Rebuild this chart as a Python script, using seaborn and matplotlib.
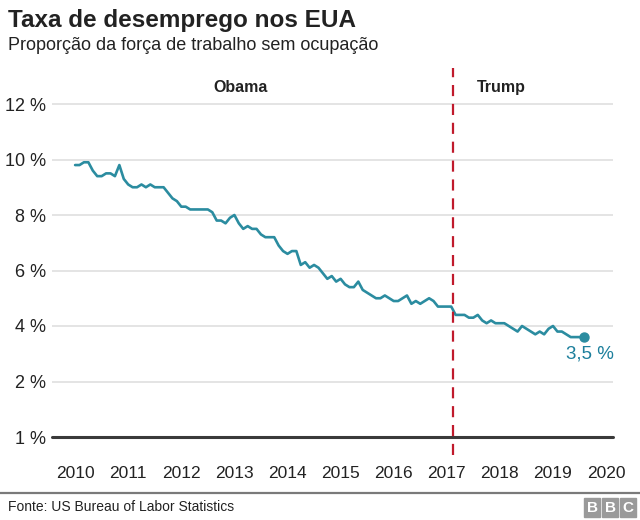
import numpy as np
import pandas as pd
import matplotlib
matplotlib.use("Agg")
import matplotlib.pyplot as plt
import seaborn as sns

# ---- data (monthly unemployment rate, %) ----
rate_2010 = [9.8, 9.8, 9.9, 9.9, 9.6, 9.4, 9.4, 9.5, 9.5, 9.4, 9.8, 9.3]
rate_2011 = [9.1, 9.0, 9.0, 9.1, 9.0, 9.1, 9.0, 9.0, 9.0, 8.8, 8.6, 8.5]
rate_2012 = [8.3, 8.3, 8.2, 8.2, 8.2, 8.2, 8.2, 8.1, 7.8, 7.8, 7.7, 7.9]
rate_2013 = [8.0, 7.7, 7.5, 7.6, 7.5, 7.5, 7.3, 7.2, 7.2, 7.2, 6.9, 6.7]
rate_2014 = [6.6, 6.7, 6.7, 6.2, 6.3, 6.1, 6.2, 6.1, 5.9, 5.7, 5.8, 5.6]
rate_2015 = [5.7, 5.5, 5.4, 5.4, 5.6, 5.3, 5.2, 5.1, 5.0, 5.0, 5.1, 5.0]
rate_2016 = [4.9, 4.9, 5.0, 5.1, 4.8, 4.9, 4.8, 4.9, 5.0, 4.9, 4.7, 4.7]
rate_2017 = [4.7, 4.7, 4.4, 4.4, 4.4, 4.3, 4.3, 4.4, 4.2, 4.1, 4.2, 4.1]
rate_2018 = [4.1, 4.1, 4.0, 3.9, 3.8, 4.0, 3.9, 3.8, 3.7, 3.8, 3.7, 3.9]
rate_2019 = [4.0, 3.8, 3.8, 3.7, 3.6, 3.6, 3.6, 3.6]

years = [2010, 2011, 2012, 2013, 2014, 2015, 2016, 2017, 2018, 2019]
rates_by_year = [rate_2010, rate_2011, rate_2012, rate_2013, rate_2014,
                 rate_2015, rate_2016, rate_2017, rate_2018, rate_2019]

y_ticks = [0, 2, 4, 6, 8, 10, 12]
y_tick_labels = ["1 %", "2 %", "4 %", "6 %", "8 %", "10 %", "12 %"]
x_ticks = [2010, 2011, 2012, 2013, 2014, 2015, 2016, 2017, 2018, 2019, 2020]
trump_start = 2017.12
last_label = "3,5 %"

title = "Taxa de desemprego nos EUA"
subtitle = "Proporção da força de trabalho sem ocupação"
source = "Fonte: US Bureau of Labor Statistics"

rows = []
for yr, vals in zip(years, rates_by_year):
    for m, v in enumerate(vals):
        rows.append({"t": yr + m / 12.0, "rate": v})
df = pd.DataFrame(rows)

# ---- style ----
sns.set_theme(style="white")
plt.rcParams["font.family"] = ["Liberation Sans", "DejaVu Sans"]

LINE = "#2b8ca0"
TEAL_TXT = "#1c7f9c"
TXT = "#222222"

fig = plt.figure(figsize=(6.4, 5.2), dpi=100)
ax = fig.add_axes([52 / 640, 1 - 437 / 520, (613 - 52) / 640, (437 - 68) / 520])

sns.lineplot(data=df, x="t", y="rate", ax=ax, color=LINE, linewidth=1.9)
last = df.iloc[-1]
ax.scatter([last["t"]], [last["rate"]], color=LINE, s=42, zorder=5)
ax.text(last["t"] + 0.12, last["rate"] - 0.62, last_label, color=TEAL_TXT,
        fontsize=13.5, ha="center", va="center")

ax.set_xlim(2009.565, 2020.13)
ax.set_ylim(0, 12 + (104 - 68) / 27.75)

ax.set_yticks(y_ticks)
ax.set_yticklabels(y_tick_labels)
ax.set_xticks(x_ticks)
ax.set_xticklabels([str(x) for x in x_ticks])
ax.tick_params(axis="y", length=0, pad=4, labelsize=13, labelcolor=TXT)
ax.tick_params(axis="x", length=0, pad=21, labelsize=12.5, labelcolor=TXT)
ax.set_xlabel("")
ax.set_ylabel("")

for s in ax.spines.values():
    s.set_visible(False)
for yv in y_ticks[1:]:
    ax.axhline(yv, color="#dcdcdc", linewidth=1.1, zorder=0)
ax.axhline(0, color="#3a3a3a", linewidth=2.2, zorder=3, clip_on=False)

ax.axvline(trump_start, ymin=-0.05, ymax=1.0, color="#c01a2c", linewidth=1.6,
           linestyle=(0, (5, 3.5)), clip_on=False, zorder=4)

ax.text(2013.12, 12.6, "Obama", fontsize=11.5, fontweight="bold", color=TXT,
        ha="center", va="center")
ax.text(2018.03, 12.6, "Trump", fontsize=11.5, fontweight="bold", color=TXT,
        ha="center", va="center")

# titles
fig.text(8 / 640, 1 - 9 / 520, title, fontsize=17.5, fontweight="bold",
         color=TXT, ha="left", va="top")
fig.text(8 / 640, 1 - 37 / 520, subtitle, fontsize=13, color=TXT,
         ha="left", va="top")

# footer
fig.add_artist(plt.Line2D([0, 1], [1 - 493 / 520] * 2, color="#7a7a7a",
                          linewidth=1.6, transform=fig.transFigure))
fig.text(8 / 640, 1 - 507 / 520, source, fontsize=10, color=TXT,
         ha="left", va="center")

# BBC blocks
for i, ch in enumerate("BBC"):
    x0 = (584 + i * 18) / 640
    fig.add_artist(plt.Rectangle((x0, 1 - 517 / 520), 16 / 640, 19 / 520,
                                 color="#9a9a9a", transform=fig.transFigure))
    fig.text(x0 + 8 / 640, 1 - 507.5 / 520, ch, fontsize=11, fontweight="bold",
             color="white", ha="center", va="center")

fig.savefig("out.png", dpi=100)
